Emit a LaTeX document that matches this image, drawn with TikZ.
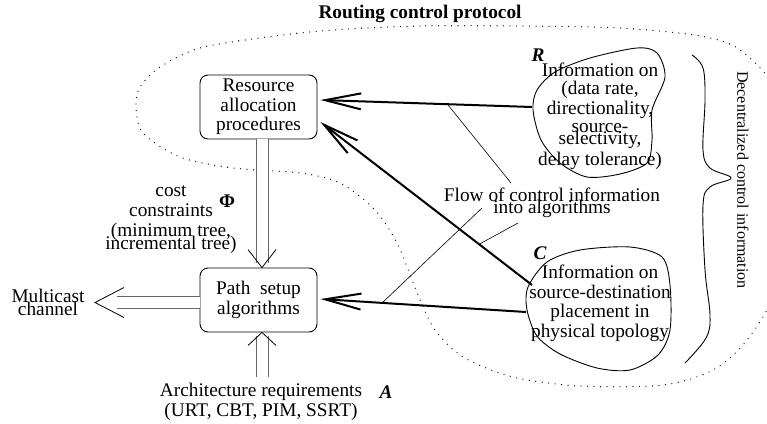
\documentclass[tikz,border=0pt]{standalone}
\usepackage{fontspec}
\setmainfont{Liberation Serif}
\usetikzlibrary{arrows.meta}

\begin{document}
\begin{tikzpicture}[
        x=1pt, y=-1pt,
        every node/.style={draw=none, align=center, inner sep=0pt, font=\fontsize{19.3}{19.5}\selectfont},
        procbox/.style={draw, rounded corners=8pt, line width=0.9pt, minimum width=117pt, minimum height=64pt},
        infoarrow/.style={line width=2pt, -{Straight Barb[length=36pt, width=16pt]}},
        pipe/.style={draw=black!60, line width=1pt, double=white, double distance=11pt},
        pipehead/.style={line width=0.8pt},
        pointer/.style={line width=0.6pt},
        blob/.style={line width=0.9pt},
        region/.style={line width=1.3pt, dash pattern=on 0pt off 6.5pt, line cap=round},
        letter/.style={font=\fontsize{19.3}{19.5}\selectfont\bfseries\itshape}
    ]
    \path[use as bounding box, clip] (0,0) rectangle (767,423);

    \node (title) at (420,14) {\textbf{Routing control protocol}};
    \draw[region] plot[smooth cycle] coordinates {(520,26) (420,26) (333,30) (267,37) (200,48) (160,67) (140,87) (136,107) (143,133) (180,157) (233,168) (300,173) (340,183) (375,210) (398,245) (418,295) (435,330) (463,357) (513,377) (580,386) (663,385) (713,370) (747,340) (775,290) (790,190) (778,95) (740,50) (700,36) (620,28)};

    \node[procbox] (res) at (258.5,107) {Resource\\allocation\\procedures};
    \node[procbox] (pth) at (258.5,300) {Path~~setup\\algorithms};

    \node (cost) at (171,219.5) {cost\\[0.5pt]constraints\\[0.5pt](minimum tree,\\[-6.5pt]incremental tree)};
    \node (phi) at (227,201) {\textbf{Φ}};
    \node (mc) at (48,302.5) {Multicast\\[-6.5pt]channel};
    \node (req) at (261,402) {Architecture requirements\\(URT, CBT, PIM, SSRT)};
    \node[letter] (a) at (386,392) {A};

    \draw[pipe] ([xshift=3.5pt]res.south) -- ([xshift=3.5pt,yshift=5pt]pth.north);
    \draw[pipehead] ([xshift=-10.5pt,yshift=18pt]pth.north) -- ([xshift=3.5pt]pth.north) -- ([xshift=17.5pt,yshift=18pt]pth.north);
    \coordinate (reqtop) at (262,377);
    \draw[pipe] (reqtop) -- ([xshift=3.5pt,yshift=-4pt]pth.south);
    \draw[pipehead] ([xshift=-10.5pt,yshift=-13pt]pth.south) -- ([xshift=3.5pt]pth.south) -- ([xshift=17.5pt,yshift=-13pt]pth.south);
    \coordinate (mctip) at (95,302.5);
    \draw[pipe] ([yshift=-2.5pt]pth.west) -- ([xshift=22pt]mctip);
    \draw[pipehead] ([xshift=29pt,yshift=15pt]mctip) -- (mctip) -- ([xshift=29pt,yshift=-15pt]mctip);

    \draw[blob] plot[smooth cycle] coordinates {(637,48) (657,53) (665,77) (652,110) (652,140) (647,163) (620,174) (587,177) (560,163) (541,140) (533,110) (537,90) (555,72) (590,58)};
    \node[letter] (r) at (538,55) {R};
    \node (rinfo) at (600,116) {Information on\\[-1.5pt](data rate,\\[0.5pt]directionality,\\[-1.5pt]source-\\[-7pt]selectivity,\\[1pt]delay tolerance)};

    \draw[blob] plot[smooth cycle] coordinates {(547,262) (580,250) (630,247) (662,257) (670,285) (670,330) (658,355) (630,370) (597,368) (560,354) (537,336) (527,310) (528,287)};
    \node[letter] (c) at (540,253) {C};
    \node (cinfo) at (600,303.5) {Information on\\source-destination\\placement in\\physical topology};

    \draw[blob] plot[smooth, tension=0.6] coordinates {(692,55) (703,68) (705,100) (703,150) (710,168) (731,178) (710,187) (703,205) (705,270) (710,315) (706,338) (685,363)};
    \node[rotate=-90, font=\fontsize{16}{18}\selectfont] (dec) at (743,180) {Decentralized control information};

    \coordinate (rL) at (532,107);
    \coordinate (cT) at (532,285);
    \coordinate (cL) at (526,312);
    \draw[infoarrow] (rL) -- coordinate[pos=0.4] (rhit) ([xshift=3pt,yshift=7pt]res.east);
    \draw[infoarrow] (cT) -- coordinate[pos=0.25] (chit) ([xshift=3pt,yshift=-15pt]res.east);
    \draw[infoarrow] (cL) -- coordinate[pos=0.7] (phit) ([xshift=3pt,yshift=1pt]pth.east);

    \node (flow) at (552,203) {Flow of control information\\[-7pt]into algorithms};
    \coordinate (f1) at (511,183);
    \coordinate (f2) at (482,208);
    \coordinate (f3) at (518,223);
    \draw[pointer] (f1) -- (rhit);
    \draw[pointer] (f2) -- (phit);
    \draw[pointer] (f3) -- (chit);
\end{tikzpicture}
\end{document}
